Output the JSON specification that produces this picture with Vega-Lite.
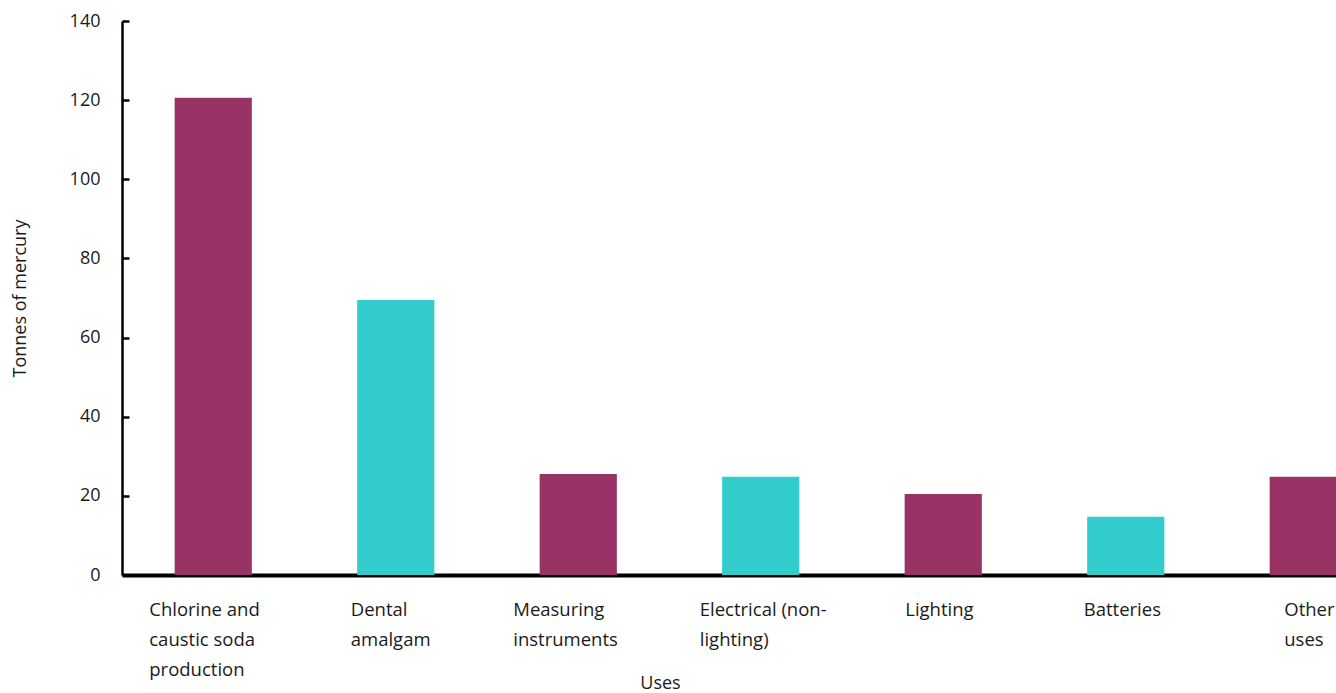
{
  "$schema": "https://vega.github.io/schema/vega-lite/v6.json",
  "autosize": {"type": "none"},
  "padding": {"left": 122, "top": 21, "right": 0, "bottom": 118},
  "width": 1214,
  "height": 554,
  "background": "white",
  "config": {
    "view": {"stroke": null},
    "font": "Open Sans",
    "axis": {"grid": false, "labelFont": "Open Sans", "titleFont": "Open Sans", "labelColor": "#1a1a1a", "titleColor": "#1a1a1a", "titleFontWeight": "normal"}
  },
  "data": {
    "values": [
      {"use": "Chlorine and|caustic soda|production", "tonnes": 120.6},
      {"use": "Dental|amalgam", "tonnes": 69.5},
      {"use": "Measuring|instruments", "tonnes": 25.5},
      {"use": "Electrical (non-|lighting)", "tonnes": 24.8},
      {"use": "Lighting", "tonnes": 20.5},
      {"use": "Batteries", "tonnes": 14.7},
      {"use": "Other|uses", "tonnes": 24.8}
    ]
  },
  "mark": {"type": "bar"},
  "encoding": {
    "x": {
      "field": "use",
      "type": "nominal",
      "sort": null,
      "scale": {"range": [0, 1277.5], "paddingInner": 0.577, "paddingOuter": 0.2885},
      "axis": {
        "title": "Uses",
        "labelExpr": "split(datum.label, '|')",
        "labelAngle": 0,
        "labelAlign": "left",
        "labelBaseline": "top",
        "labelFontSize": 18.5,
        "labelLineHeight": 30,
        "labelPadding": 25,
        "labelLimit": 300,
        "labelOffset": {
          "condition": [
            {"test": "datum.value == 'Chlorine and|caustic soda|production'", "value": -64},
            {"test": "datum.value == 'Dental|amalgam'", "value": -45},
            {"test": "datum.value == 'Measuring|instruments'", "value": -65},
            {"test": "datum.value == 'Electrical (non-|lighting)'", "value": -61},
            {"test": "datum.value == 'Lighting'", "value": -38},
            {"test": "datum.value == 'Batteries'", "value": -42}
          ],
          "value": -24
        },
        "ticks": false,
        "domainColor": "black",
        "domainWidth": 4,
        "titleFontSize": 18,
        "titleX": 538,
        "titleY": 108,
        "titleAlign": "center",
        "titleBaseline": "middle"
      }
    },
    "y": {
      "field": "tonnes",
      "type": "quantitative",
      "scale": {"domain": [0, 140], "nice": false},
      "axis": {
        "title": "Tonnes of mercury",
        "values": [0, 20, 40, 60, 80, 100, 120, 140],
        "labelFontSize": 18,
        "labelPadding": 29,
        "tickSize": -7,
        "tickWidth": 2.5,
        "tickColor": "black",
        "domainColor": "black",
        "domainWidth": 2.5,
        "titleFontSize": 18,
        "titleX": -102,
        "titleBaseline": "middle"
      }
    },
    "color": {
      "field": "use",
      "type": "nominal",
      "sort": null,
      "scale": {"range": ["#993366", "#33CCCC", "#993366", "#33CCCC", "#993366", "#33CCCC", "#993366"]},
      "legend": null
    }
  }
}
